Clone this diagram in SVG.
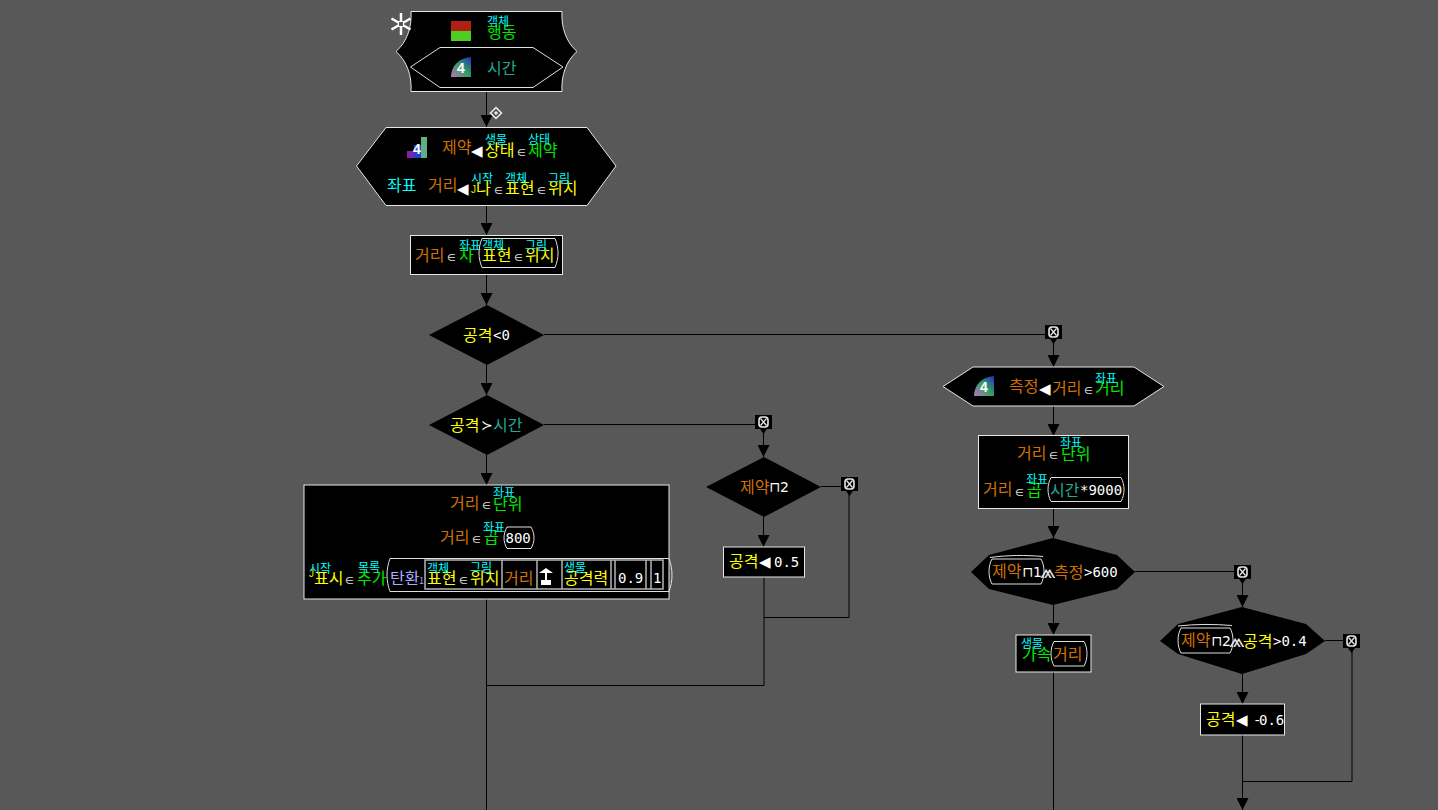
<svg xmlns="http://www.w3.org/2000/svg" width="1438" height="810" viewBox="0 0 1438 810">
<style>
text{font-family:"Noto Sans CJK KR","Noto Sans",sans-serif;font-size:16px}
.s{font-size:12px;fill:#00ffff}
.o{fill:#d07000}.y{fill:#ffff00}.g{fill:#00e800}.c{fill:#00ffff}.t{fill:#1fa894}.l{fill:#a9a9ff}
.m{font-family:"DejaVu Sans Mono",monospace;font-size:14px;fill:#fff}
.p{font-family:"DejaVu Sans",sans-serif;font-size:14px;fill:#fff}
.e{font-family:"DejaVu Sans",sans-serif;font-size:10px;fill:#e0e0e0}
.a{font-family:"DejaVu Sans",sans-serif;font-size:15px;fill:#fff}
.v{font-family:"DejaVu Sans",sans-serif;font-size:20px;fill:#e8e8e8}
.j{font-family:"Liberation Sans",sans-serif;font-size:10px;fill:#e8e800}
.i{font-family:"Liberation Sans",sans-serif;font-size:14px;font-weight:bold;fill:#fff}
.n{fill:#000;stroke:#e6e6e6;stroke-width:1}
.d{fill:#000}
.b{fill:none;stroke:#e0e0e0;stroke-width:1}
.sep{stroke:#b4b4b4;stroke-width:1.500;fill:none}
.w{fill:none;stroke:#000;stroke-width:1}
</style>
<defs>
<marker id="arr" markerUnits="userSpaceOnUse" markerWidth="12" markerHeight="12" refX="12" refY="6" orient="auto"><path d="M0 0L12 6L0 12Z" fill="#000"/></marker>
<linearGradient id="q" x1="0" y1="1" x2="1" y2="0"><stop offset="0" stop-color="#c070c0"/><stop offset=".5" stop-color="#30a060"/><stop offset="1" stop-color="#2030c0"/></linearGradient>
<g id="x"><path d="M0 0H17V14H12L8.500 19L5 14H0Z" fill="#000"/><rect x="4" y="2" width="9" height="10" rx="3" fill="none" stroke="#e6e6e6" stroke-width="1.600"/><path d="M5.500 3.500L11.500 10.500M11.500 3.500L5.500 10.500" stroke="#e6e6e6" stroke-width="1.300"/></g>
</defs>
<rect width="1438" height="810" fill="#585858"/>

<g id="connectors">
<path class="w" d="M486.500 91V127" marker-end="url(#arr)"/>
<path class="w" d="M486.500 205V235" marker-end="url(#arr)"/>
<path class="w" d="M486.500 274V305" marker-end="url(#arr)"/>
<path class="w" d="M486.500 365V395" marker-end="url(#arr)"/>
<path class="w" d="M486.500 455V485" marker-end="url(#arr)"/>
<path class="w" d="M544 334.500H1046"/>
<path class="w" d="M1053.500 340V367" marker-end="url(#arr)"/>
<path class="w" d="M1053.500 406V436" marker-end="url(#arr)"/>
<path class="w" d="M1053.500 508V538" marker-end="url(#arr)"/>
<path class="w" d="M1053.500 605V635" marker-end="url(#arr)"/>
<path class="w" d="M1053.500 672V810"/>
<path class="w" d="M1135 571.500H1235"/>
<path class="w" d="M1242.500 578V607" marker-end="url(#arr)"/>
<path class="w" d="M1242.500 674V704" marker-end="url(#arr)"/>
<path class="w" d="M1242.500 735V810" marker-end="url(#arr)"/>
<path class="w" d="M1325 640.500H1344"/>
<path class="w" d="M1352 648V781.500H1243"/>
<path class="w" d="M544 424.500H756"/>
<path class="w" d="M763.500 428V457" marker-end="url(#arr)"/>
<path class="w" d="M763.500 517V547" marker-end="url(#arr)"/>
<path class="w" d="M821 486.500H842"/>
<path class="w" d="M849 490V617.500H764"/>
<path class="w" d="M764 577V685.500H487"/>
<path class="w" d="M486.500 599V810"/>
<use href="#x" x="1045" y="325"/>
<use href="#x" x="755" y="415"/>
<use href="#x" x="841" y="477"/>
<use href="#x" x="1234" y="565"/>
<use href="#x" x="1343" y="634"/>
<g id="link-mark"><path d="M496 107.500L501.500 113L496 118.500L490.500 113Z" fill="none" stroke="#eee" stroke-width="1.500"/><path d="M496 111L498 113L496 115L494 113Z" fill="#eee"/></g>
</g>

<g id="n-action">
<path class="n" d="M411 11.500H562C561 27 566 42 577 51.500C566 61 561 76 562 91.500H411C412 76 407 61 396 51.500C407 42 412 27 411 11.500Z"/>
<path d="M401 13V35M391.500 18.500L410.500 29.500M410.500 18.500L391.500 29.500" stroke="#fff" stroke-width="2.500"/><rect x="398.500" y="21.500" width="5" height="5" fill="#585858" stroke="#fff"/>
<rect x="451" y="21" width="20" height="10" fill="#b02014"/><rect x="451" y="31" width="20" height="10" fill="#4ece20"/>
<text class="g" x="487" y="38">행동</text><text class="s" x="487" y="26">객체</text>
<path class="b" d="M410.500 67L440 47.500H533L563 67L533 87.500H440Z"/>
<path d="M451 77C451 66 459 58 471 57V77Z" fill="url(#q)"/><text class="i" x="457" y="73">4</text>
<text class="t" x="487" y="74">시간</text>
</g>

<g id="n-constraint">
<path class="n" d="M386 127.500H587L616 166L587 205.500H386L356.500 166Z"/>
<rect x="407" y="151" width="7" height="7" fill="#8020b0"/><rect x="414" y="145" width="7" height="13" fill="#2040d0"/><rect x="421" y="137" width="6" height="21" fill="#5fb080"/><text class="i" x="413" y="154">4</text>
<text class="o" x="442" y="153">제약</text><text class="a" x="471" y="156">◀</text>
<text class="y" x="485" y="156">상태</text><text class="s" x="485" y="144">생물</text><text class="e" x="517" y="156">∈</text>
<text class="g" x="528" y="156">제약</text><text class="s" x="528" y="144">상태</text>
<text class="c" x="387" y="191">좌표</text><text class="o" x="428" y="191">거리</text><text class="a" x="457" y="194">◀</text>
<text class="j" x="471" y="193">J</text><text class="y" x="476" y="194">나</text><text class="s" x="471" y="183">시작</text><text class="e" x="494" y="194">∈</text>
<text class="y" x="505" y="194">표현</text><text class="s" x="505" y="183">객체</text><text class="e" x="537" y="194">∈</text>
<text class="y" x="548" y="194">위치</text><text class="s" x="548" y="183">그림</text>
</g>

<g id="n-sub">
<rect class="n" x="410.500" y="235.500" width="152" height="39"/>
<text class="o" x="415" y="261">거리</text><text class="e" x="447" y="261">∈</text><text class="g" x="459" y="261">차</text><text class="s" x="459" y="250">좌표</text>
<path class="b" d="M482 238.500H555C559 248 559 258 555 267.500H482C478 258 478 248 482 238.500Z"/>
<text class="y" x="482" y="261">표현</text><text class="s" x="482" y="250">객체</text><text class="e" x="514" y="261">∈</text><text class="y" x="525" y="261">위치</text><text class="s" x="525" y="250">그림</text>
</g>

<g id="n-if1">
<path class="d" d="M429 335L487 305L544 335L487 365Z"/>
<text class="y" x="463" y="341">공격</text><text class="m" x="493" y="340">&lt;0</text>
</g>
<g id="n-if2">
<path class="d" d="M429 425L487 395L544 425L487 455Z"/>
<text class="y" x="450" y="431">공격</text><text class="p" x="481" y="430">≻</text><text class="t" x="493" y="431">시간</text>
</g>

<g id="n-big">
<rect class="n" x="304" y="485" width="365" height="114"/>
<text class="o" x="450" y="509">거리</text><text class="e" x="482" y="509">∈</text><text class="g" x="493" y="510">단위</text><text class="s" x="493" y="497">좌표</text>
<text class="o" x="440" y="543">거리</text><text class="e" x="472" y="543">∈</text><text class="g" x="484" y="543">곱</text><text class="s" x="483" y="532">좌표</text>
<path class="b" d="M507 527H531C535 534 535 542 531 548.500H507C503 542 503 534 507 527Z"/><text class="m" x="505.500" y="543">800</text>
<text class="j" x="309" y="577">J</text><text class="y" x="314" y="584">표시</text><text class="s" x="309" y="573">시작</text><text class="e" x="345" y="584">∈</text>
<text class="g" x="357" y="584">추가</text><text class="s" x="358" y="572">목록</text>
<path class="b" d="M390 558.500H669C673 569 673 581 669 591.500H390C386 581 386 569 390 558.500Z"/>
<text class="l" x="390" y="584">탄환</text><text class="l" style="font-size:9px" x="419" y="584">1</text>
<path class="sep" d="M425 560H663V589H425ZM502 560V589M537 560V589M562 560V589M611 560V589M615 560V589M646 560V589M651 560V589"/>
<text class="y" x="427" y="584">표현</text><text class="s" x="427" y="573">객체</text><text class="e" x="459" y="584">∈</text><text class="y" x="470" y="584">위치</text><text class="s" x="470" y="572">그림</text>
<text class="o" x="504" y="584">거리</text>
<path d="M539 573L546 568L553 573H547V580H551V585H541V580H545V573Z" fill="#fff"/>
<text class="y" x="564" y="584">공격력</text><text class="s" x="564" y="572">생물</text>
<text class="m" x="618" y="583">0.9</text><text class="m" x="653" y="583">1</text>
</g>

<g id="n-if3">
<path class="d" d="M706 487L764 457L821 487L764 517Z"/>
<text class="o" x="740" y="493">제약</text><text class="p" x="769" y="492">⊓2</text>
</g>
<g id="n-set1">
<rect class="n" x="723.500" y="547" width="81" height="30"/>
<text class="y" x="729" y="567">공격</text><text class="a" x="759" y="567">◀</text><text class="m" x="774" y="567">0.5</text>
</g>

<g id="n-measure">
<path class="n" d="M973 367H1134L1164 386.500L1134 406H973L943 386.500Z"/>
<path d="M974 396C974 385 982 377 994 376V396Z" fill="url(#q)"/><text class="i" x="980" y="392">4</text>
<text class="o" x="1009" y="392">측정</text><text class="a" x="1039" y="394">◀</text>
<text class="o" x="1052" y="394">거리</text><text class="e" x="1084" y="394">∈</text><text class="g" x="1095" y="394">거리</text><text class="s" x="1095" y="383">좌표</text>
</g>
<g id="n-right-rect">
<rect class="n" x="978.500" y="435.500" width="150" height="73"/>
<text class="o" x="1017" y="459">거리</text><text class="e" x="1049" y="459">∈</text><text class="g" x="1061" y="460">단위</text><text class="s" x="1060" y="447">좌표</text>
<text class="o" x="983" y="495">거리</text><text class="e" x="1015" y="496">∈</text><text class="g" x="1027" y="496">곱</text><text class="s" x="1026" y="484">좌표</text>
<path class="b" d="M1051 477.500H1121C1125 485 1125 494 1121 501.500H1051C1047 494 1047 485 1051 477.500Z"/>
<text class="t" x="1050" y="496">시간</text><text class="m" x="1080" y="495">*9000</text>
</g>
<g id="n-if4">
<path class="d" d="M971 572L989 555L1053 538L1117 555L1135 572L1117 589L1053 605L989 589Z"/>
<path class="b" d="M990 557.500C1008 555 1026 555 1043 556.500M992 559H1041C1045 566 1045 577 1041 584H992C988 577 988 566 992 559Z"/>
<text class="o" x="992" y="577">제약</text><text class="p" x="1022" y="577">⊓1</text>
<text class="v" x="1040" y="578">⩕</text><text class="o" x="1054" y="578">측정</text><text class="m" x="1084" y="577">&gt;600</text>
</g>
<g id="n-accel">
<rect class="n" x="1016" y="635" width="75" height="37"/>
<text class="g" x="1022" y="660">가속</text><text class="s" x="1021" y="648">생물</text>
<path class="b" d="M1054 641.500H1084C1088 648 1088 659 1084 666H1054C1050 659 1050 648 1054 641.500Z"/>
<text class="o" x="1053" y="660">거리</text>
</g>
<g id="n-if5">
<path class="d" d="M1160 641L1178 624L1242 607L1306 624L1325 641L1306 654L1242 674L1178 654Z"/>
<path class="b" d="M1178 626C1196 624 1214 624 1232 625.500M1181 628H1230C1234 635 1234 646 1230 653H1181C1177 646 1177 635 1181 628Z"/>
<text class="o" x="1181" y="646">제약</text><text class="p" x="1211" y="646">⊓2</text>
<text class="v" x="1229" y="647">⩕</text><text class="y" x="1243" y="647">공격</text><text class="m" x="1273" y="646">&gt;0.4</text>
</g>
<g id="n-set2">
<rect class="n" x="1200.500" y="704" width="84" height="31"/>
<text class="y" x="1206" y="725">공격</text><text class="a" x="1236" y="725">◀</text><text class="m" x="1253" y="725">-</text><text class="m" x="1259" y="725">0.6</text>
</g>
</svg>
